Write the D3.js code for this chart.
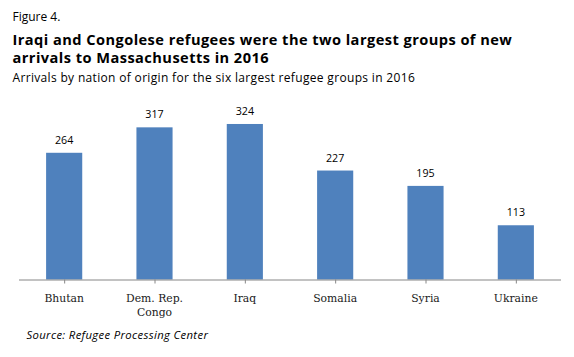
<!DOCTYPE html>
<html><head><meta charset="utf-8">
<script src="https://cdn.jsdelivr.net/npm/d3@7"></script>
<style>body{margin:0;background:#fff}</style>
</head><body>
<script>
const categories = ["Bhutan", "Dem. Rep.|Congo", "Iraq", "Somalia", "Syria", "Ukraine"];
const values = [264, 317, 324, 227, 195, 113];
const yMax = 350;

const W = 574, H = 357;
const svg = d3.select("body").append("svg").attr("width", W).attr("height", H);
const sans = "'Open Sans', Lato, sans-serif";

svg.append("text").attr("x", 12.5).attr("y", 21).attr("font-family", sans).attr("font-size", 12).attr("fill", "#000").text("Figure 4.");
svg.append("text").attr("x", 12.5).attr("y", 44.5).attr("font-family", sans).attr("font-weight", "bold").attr("font-size", 14.6).attr("letter-spacing", 0.45).attr("fill", "#000").text("Iraqi and Congolese refugees were the two largest groups of new");
svg.append("text").attr("x", 12.5).attr("y", 63).attr("font-family", sans).attr("font-weight", "bold").attr("font-size", 14.6).attr("letter-spacing", 0.45).attr("fill", "#000").text("arrivals to Massachusetts in 2016");
svg.append("text").attr("x", 12.5).attr("y", 81.5).attr("font-family", sans).attr("font-size", 12).attr("letter-spacing", 0.33).attr("fill", "#000").text("Arrivals by nation of origin for the six largest refugee groups in 2016");

const x = d3.scaleBand().domain(categories).range([19, 561]).paddingInner(0.6).paddingOuter(0.3);
const y = d3.scaleLinear().domain([0, yMax]).range([279.5, 111.5]);

svg.selectAll("rect.bar").data(values).join("rect").attr("class", "bar")
  .attr("x", (d, i) => x(categories[i])).attr("width", x.bandwidth())
  .attr("y", d => y(d)).attr("height", d => y(0) - y(d)).attr("fill", "#4F81BD");

svg.selectAll("text.val").data(values).join("text").attr("class", "val")
  .attr("x", (d, i) => x(categories[i]) + x.bandwidth() / 2).attr("y", d => y(d) - 9)
  .attr("text-anchor", "middle").attr("font-family", sans).attr("font-size", 10.7).attr("fill", "#000").text(d => d);

const xc = d3.scalePoint().domain(categories).range([19, 561]).padding(0.5);
const axis = d3.axisBottom(xc).tickSize(4).tickSizeOuter(0).tickFormat("");
const gx = svg.append("g").attr("transform", `translate(0,${y(0)})`).call(axis);
gx.select(".domain").attr("stroke", "#868686").attr("d", "M19,0.5H561");
gx.selectAll(".tick line").attr("stroke", "#868686");

const labels = svg.append("g");
categories.forEach(c => {
  const t = labels.append("text").attr("x", xc(c)).attr("y", 301.7).attr("text-anchor", "middle")
    .attr("font-family", "'DejaVu Serif', serif").attr("font-size", 10.8).attr("fill", "#1a1a1a");
  c.split("|").forEach((line, j) => {
    t.append("tspan").attr("x", xc(c)).attr("dy", j === 0 ? 0 : 14.5).text(line);
  });
});

svg.append("text").attr("x", 26.5).attr("y", 339.3).attr("font-family", sans).attr("font-style", "italic").attr("font-size", 11.3).attr("letter-spacing", 0.35).attr("fill", "#000").text("Source: Refugee Processing Center");
</script>
</body></html>
